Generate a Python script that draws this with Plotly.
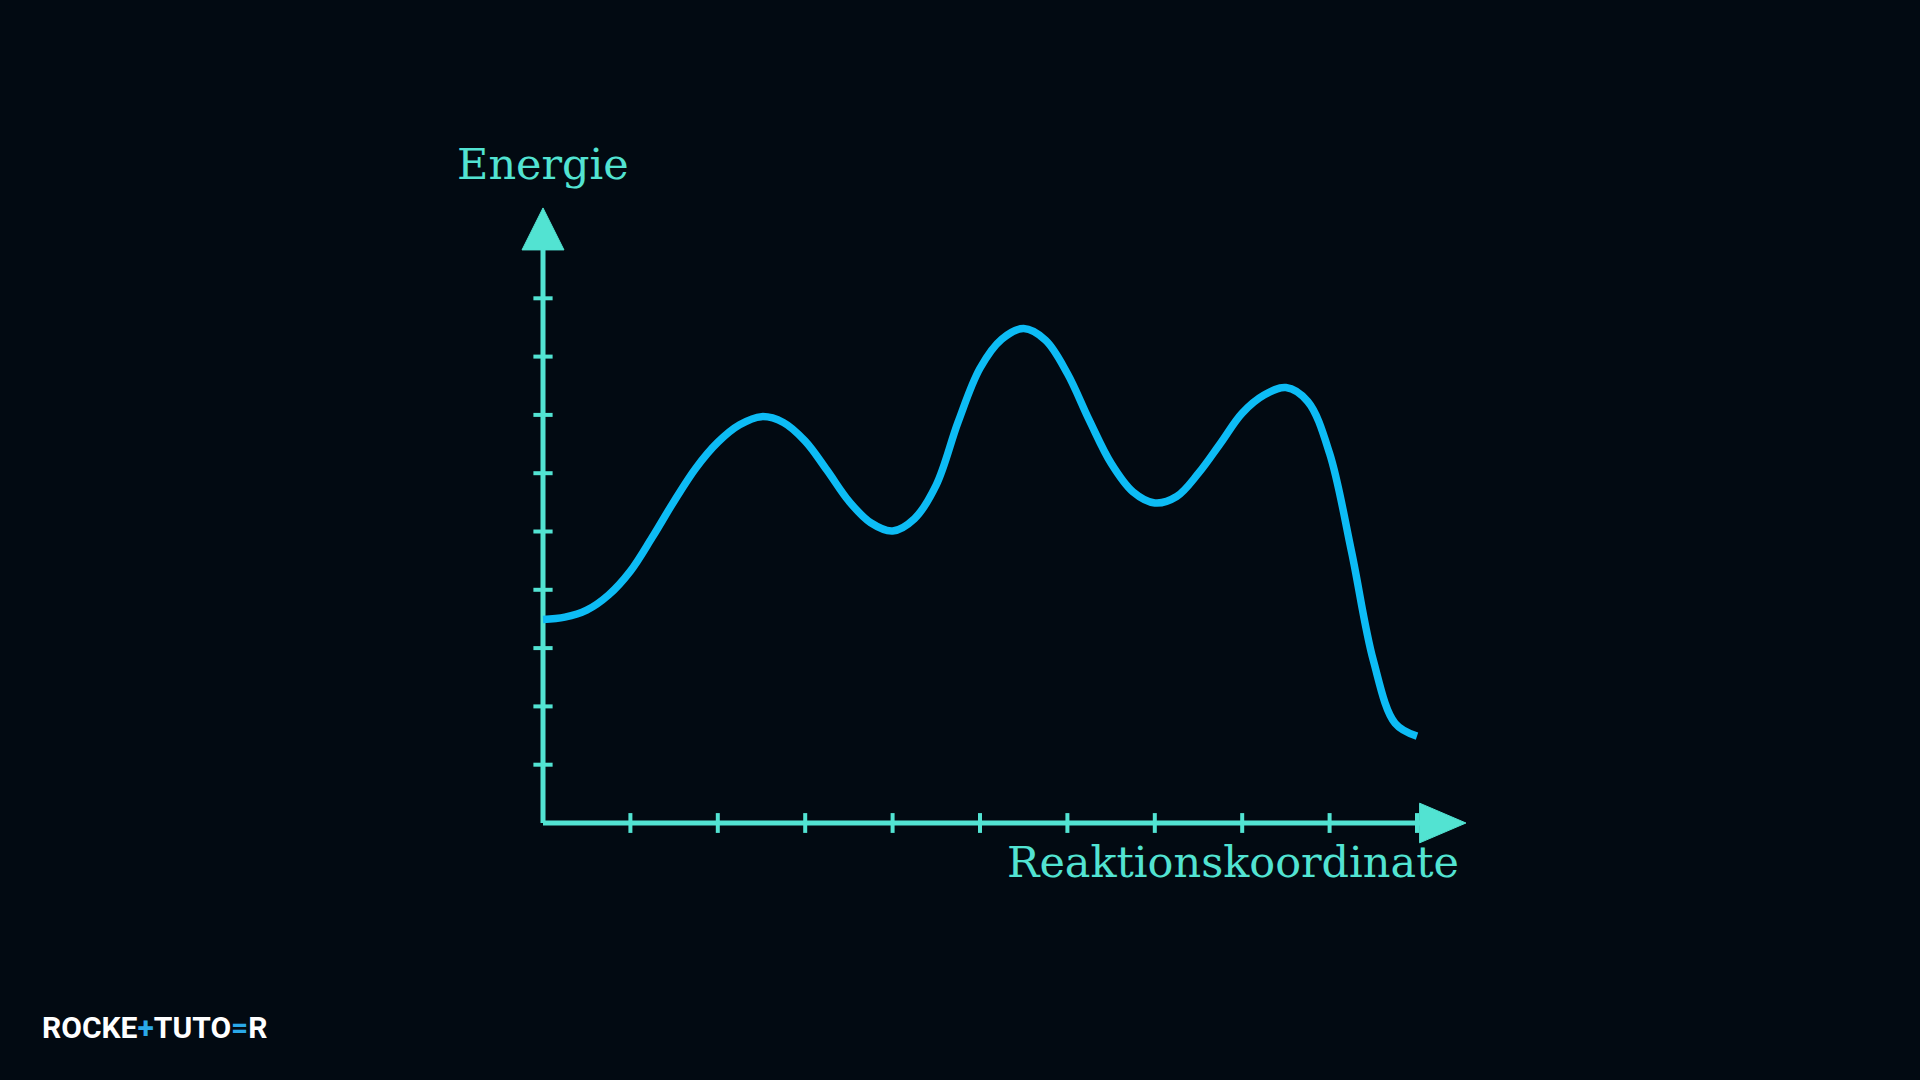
import plotly.graph_objects as go

# energy profile, every quarter tick (x in tick units, y in tick units)
reaction_coord = [i * 0.25 for i in range(41)]
energy = [3.49, 3.53, 3.65, 3.91, 4.32, 4.90, 5.52, 6.09, 6.53, 6.83,
          6.97, 6.87, 6.55, 6.05, 5.52, 5.15, 5.01, 5.22, 5.80, 6.88,
          7.80, 8.30, 8.48, 8.28, 7.71, 6.91, 6.17, 5.68, 5.49, 5.60,
          6.00, 6.51, 7.03, 7.34, 7.47, 7.23, 6.34, 4.66, 2.79, 1.71,
          1.49]

x_ticks = [1, 2, 3, 4, 5, 6, 7, 8, 9, 10]
y_ticks = [1, 2, 3, 4, 5, 6, 7, 8, 9]

x_label = "Reaktionskoordinate"
y_label = "Energie"

BG = "#020a12"
TEAL = "#52e3d2"
BLUE = "#0dbcf5"

# pixel mapping: origin at (543, 823), 87.4 px per x unit, 58.3 px per y unit
X0, Y0, SX, SY = 543, 823, 87.4, 58.3
x_range = [-X0 / SX, (1920 - X0) / SX]
y_range = [-(1080 - Y0) / SY, Y0 / SY]

fig = go.Figure()

# axes lines
fig.add_trace(go.Scatter(x=[0, 0, None, 0, 10.1], y=[9.9, 0, None, 0, 0], mode="lines",
                         line=dict(color=TEAL, width=5), hoverinfo="skip"))

# tick marks
tx, ty = [], []
for t in x_ticks:
    tx += [t, t, None]
    ty += [-0.17, 0.17, None]
for t in y_ticks:
    tx += [-0.11, 0.11, None]
    ty += [t, t, None]
fig.add_trace(go.Scatter(x=tx, y=ty, mode="lines", line=dict(color=TEAL, width=4), hoverinfo="skip"))

# arrow heads
fig.add_trace(go.Scatter(x=[-0.24, 0.24, 0, -0.24], y=[9.83, 9.83, 10.55, 9.83], mode="lines",
                         fill="toself", fillcolor=TEAL, line=dict(color=TEAL, width=1), hoverinfo="skip"))
fig.add_trace(go.Scatter(x=[10.03, 10.03, 10.56, 10.03], y=[-0.34, 0.34, 0, -0.34], mode="lines",
                         fill="toself", fillcolor=TEAL, line=dict(color=TEAL, width=1), hoverinfo="skip"))

# energy curve
fig.add_trace(go.Scatter(x=reaction_coord, y=energy, mode="lines", line_shape="spline",
                         line=dict(color=BLUE, width=7.5, smoothing=1.0), hoverinfo="skip"))

fig.add_annotation(x=0, y=(Y0 - 164) / SY, text=y_label, showarrow=False, xanchor="center", yanchor="middle",
                   font=dict(family="DejaVu Serif", size=43, color=TEAL))
fig.add_annotation(x=(1461 - X0) / SX, y=(Y0 - 862) / SY, text=x_label, showarrow=False,
                   xanchor="right", yanchor="middle",
                   font=dict(family="DejaVu Serif", size=43, color=TEAL))

# logo
fig.add_annotation(xref="paper", yref="paper", x=40 / 1920, y=1 - 1027 / 1080, xanchor="left", yanchor="middle",
                   text="<b>ROCKE<span style='color:#2aa8e8'>+</span>TUTO<span style='color:#2aa8e8'>=</span>R</b>",
                   showarrow=False, font=dict(family="Roboto", size=30, color="white"))

fig.update_xaxes(range=x_range, visible=False, fixedrange=True)
fig.update_yaxes(range=y_range, visible=False, fixedrange=True)
fig.update_layout(width=1920, height=1080, margin=dict(l=0, r=0, t=0, b=0),
                  paper_bgcolor=BG, plot_bgcolor=BG, showlegend=False)

fig.write_html("out.html", config={"displayModeBar": False},
               post_script="document.body.style.margin='0';")
